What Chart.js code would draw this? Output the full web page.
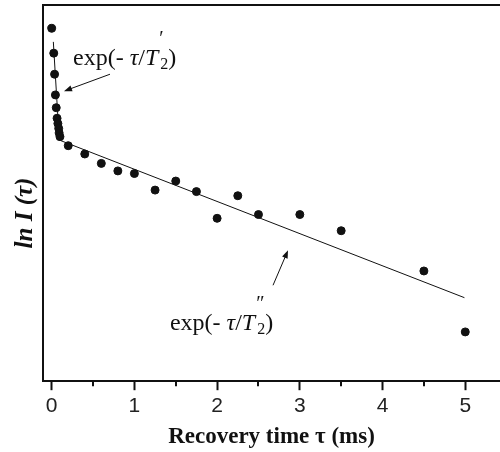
<!DOCTYPE html>
<html>
<head>
<meta charset="utf-8">
<script src="https://cdn.jsdelivr.net/npm/chart.js@4/dist/chart.umd.min.js"></script>
<style>
  html, body { margin: 0; padding: 0; background: #fff; overflow: hidden; }
  #wrap { width: 500px; height: 452px; }
</style>
</head>
<body>
<div id="wrap"><canvas id="relaxChart"></canvas></div>
<script>
// measured points: recovery time (ms) vs ln I (arbitrary units)
const recoveryTime = [0, 0.025, 0.035, 0.045, 0.055, 0.065, 0.075, 0.085, 0.09, 0.1,
    0.2, 0.4, 0.6, 0.8, 1.0, 1.25, 1.5, 1.75, 2.0, 2.25, 2.5, 3.0, 3.5, 4.5, 5.0];
const lnIntensity = [9.38, 8.72, 8.16, 7.61, 7.27, 6.99, 6.85, 6.72, 6.60, 6.50,
    6.26, 6.04, 5.79, 5.59, 5.52, 5.08, 5.32, 5.04, 4.33, 4.93, 4.43, 4.43, 4.00, 2.93, 1.31];

// two-exponential fit: fast part then slow part
const fitTime = [0.02, 0.092, 4.99];
const fitValue = [9.02, 6.41, 2.22];

const xTicks = [0, 1, 2, 3, 4, 5];
const xMinorTicks = [0.5, 1.5, 2.5, 3.5, 4.5];

const SERIF = '"Liberation Serif", "Times New Roman", serif';

// annotation text + arrow, anchored in data coords
const notes = [
    { x: 0.258, y: 8.40, prime: '\u2032', from: [0.705, 8.16], to: [0.149, 7.71] },
    { x: 1.43, y: 1.36, prime: '\u2033', from: [2.676, 2.55], to: [2.857, 3.48] }
];

const extrasPlugin = {
    id: 'extras',
    afterDraw(chart) {
        const ctx = chart.ctx;
        const xs = chart.scales.x, ys = chart.scales.y;
        ctx.save();
        ctx.fillStyle = '#111';
        ctx.strokeStyle = '#111';

        // minor ticks
        ctx.lineWidth = 2;
        const axisY = chart.chartArea.bottom;
        xMinorTicks.forEach(v => {
            const px = Math.round(xs.getPixelForValue(v));
            ctx.beginPath();
            ctx.moveTo(px, axisY);
            ctx.lineTo(px, axisY + 5);
            ctx.stroke();
        });

        // y title
        ctx.save();
        ctx.translate(26, 213);
        ctx.rotate(-Math.PI / 2);
        ctx.font = 'italic bold 25px ' + SERIF;
        ctx.textAlign = 'center';
        ctx.textBaseline = 'middle';
        ctx.fillText('ln I (\u03c4)', 0, 0);
        ctx.restore();

        // annotations
        ctx.textBaseline = 'alphabetic';
        ctx.textAlign = 'left';
        notes.forEach(n => {
            let px = xs.getPixelForValue(n.x);
            const py = ys.getPixelForValue(n.y);
            const part = (txt, font, dy) => {
                ctx.font = font;
                ctx.fillText(txt, px, py + (dy || 0));
                px += ctx.measureText(txt).width;
            };
            part('exp(-', '24px ' + SERIF);
            part(' \u03c4', 'italic 24px ' + SERIF);
            part('/', '24px ' + SERIF);
            part('T', 'italic 24px ' + SERIF);
            const tx = px;
            ctx.font = '20px ' + SERIF;
            ctx.fillText(n.prime, tx + 1, py - 20);
            px += 2;
            part('2', '16px ' + SERIF, 4);
            part(')', '24px ' + SERIF);

            // arrow
            const x0 = xs.getPixelForValue(n.from[0]), y0 = ys.getPixelForValue(n.from[1]);
            const x1 = xs.getPixelForValue(n.to[0]), y1 = ys.getPixelForValue(n.to[1]);
            const ang = Math.atan2(y1 - y0, x1 - x0);
            ctx.lineWidth = 1;
            ctx.beginPath();
            ctx.moveTo(x0, y0);
            ctx.lineTo(x1 - 6 * Math.cos(ang), y1 - 6 * Math.sin(ang));
            ctx.stroke();
            ctx.beginPath();
            ctx.moveTo(x1, y1);
            ctx.lineTo(x1 - 8 * Math.cos(ang) + 3 * Math.sin(ang), y1 - 8 * Math.sin(ang) - 3 * Math.cos(ang));
            ctx.lineTo(x1 - 8 * Math.cos(ang) - 3 * Math.sin(ang), y1 - 8 * Math.sin(ang) + 3 * Math.cos(ang));
            ctx.closePath();
            ctx.fill();
        });
        ctx.restore();
    }
};

new Chart(document.getElementById('relaxChart'), {
    type: 'scatter',
    data: {
        datasets: [{
            label: 'data',
            data: recoveryTime.map((t, i) => ({ x: t, y: lnIntensity[i] })),
            backgroundColor: '#111',
            borderColor: '#111',
            pointRadius: 4,
            pointHoverRadius: 4
        }, {
            label: 'fit',
            data: fitTime.map((t, i) => ({ x: t, y: fitValue[i] })),
            showLine: true,
            borderColor: '#111',
            borderWidth: 1,
            pointRadius: 0
        }]
    },
    options: {
        responsive: true,
        maintainAspectRatio: false,
        animation: false,
        layout: { autoPadding: false, padding: { left: 43, top: 5, right: 0, bottom: 0 } },
        plugins: { legend: { display: false }, tooltip: { enabled: false } },
        scales: {
            x: {
                type: 'linear',
                position: 'bottom',
                min: -0.105,
                max: 5.42,
                afterBuildTicks: (scale) => { scale.ticks = xTicks.map(v => ({ value: v })); },
                ticks: {
                    color: '#222',
                    padding: 3,
                    maxRotation: 0,
                    font: { family: '"Liberation Sans", Arial, sans-serif', size: 21 }
                },
                grid: {
                    display: true,
                    drawOnChartArea: false,
                    drawTicks: true,
                    tickLength: 9,
                    tickWidth: 2,
                    tickColor: '#111'
                },
                border: { display: true, color: '#111', width: 2 },
                title: {
                    display: true,
                    text: 'Recovery time \u03c4 (ms)',
                    color: '#111',
                    padding: { top: 2, bottom: 1 },
                    font: { family: SERIF, size: 23, weight: 'bold' }
                }
            },
            xTop: {
                type: 'linear',
                position: 'top',
                min: -0.105,
                max: 5.42,
                ticks: { display: false },
                grid: { display: false, drawTicks: false },
                border: { display: true, color: '#111', width: 2 }
            },
            y: {
                min: 0,
                max: 10,
                ticks: { display: false },
                grid: { display: false, drawTicks: false },
                border: { display: true, color: '#111', width: 2 }
            }
        }
    },
    plugins: [extrasPlugin]
});
</script>
</body>
</html>
